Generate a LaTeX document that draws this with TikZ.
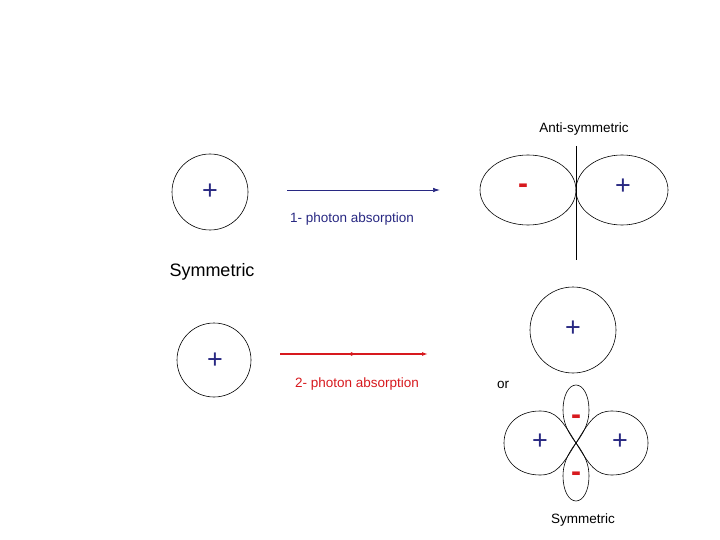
\documentclass[tikz,border=0pt]{standalone}
\usepackage{fontspec}
\setmainfont{Liberation Sans}
\usetikzlibrary{arrows.meta,decorations.markings}
\definecolor{navy}{RGB}{40,40,130}
\definecolor{myred}{RGB}{215,25,30}
\begin{document}
\begin{tikzpicture}[x=1pt,y=-1pt,
  orb/.style={draw=black,line width=0.6pt},
  plus/.style={text=navy,font=\fontsize{27}{27}\selectfont},
  minus/.style={text=myred,font=\bfseries\fontsize{30}{30}\selectfont},
  lbl/.style={font=\fontsize{13.5}{15}\selectfont}]
\useasboundingbox (0,0) rectangle (720,540);
% left circles
\draw[orb] (210,192) circle (38);
\node[plus] (p1) at (210,192) {+};
\draw[orb] (214,360) circle (37);
\node[plus] (p2) at (215,361) {+};
\node[font=\fontsize{18}{20}\selectfont] (sym1) at (212,272) {Symmetric};
% arrows
\coordinate (a1) at (287,190); \coordinate (a2) at (440,190);
\draw[navy,line width=0.7pt,-{Latex[length=7pt,width=4.5pt]}] (a1) -- (a2);
\node[lbl,text=navy] (l1) at (352,219) {1- photon absorption};
\coordinate (b1) at (280,354); \coordinate (b2) at (428,354);
\draw[myred,line width=1.6pt,-{Latex[length=6pt,width=4pt]},
  postaction={decorate,decoration={markings,mark=at position 0.52 with {\arrow{Latex[length=6pt,width=4pt]}}}}] (b1) -- (b2);
\node[lbl,text=myred] (l2) at (357,384) {2- photon absorption};
% anti-symmetric
\node[lbl] (anti) at (584,129) {Anti-symmetric};
\draw[orb] (528,190) ellipse (48 and 35);
\draw[orb] (622,190) ellipse (46 and 35);
\draw[orb] (576,146) -- (576,260);
\node[minus] (m1) at (523,189) {-};
\node[plus] (p3) at (623,187) {+};
% s orbital right
\draw[orb] (573,330) circle (43);
\node[plus] (p4) at (573,329) {+};
\node[lbl] (or) at (503,385) {or};
% d orbital
\coordinate (c) at (576,443);
\draw[orb] (c) .. controls (562,420) and (556,411) .. (540,411)
  .. controls (518,411) and (504,425) .. (504,443)
  .. controls (504,461) and (518,475) .. (540,475)
  .. controls (556,475) and (562,466) .. (c);
\draw[orb] (c) .. controls (590,420) and (596,411) .. (612,411)
  .. controls (634,411) and (648,425) .. (648,443)
  .. controls (648,461) and (634,475) .. (612,475)
  .. controls (596,475) and (590,466) .. (c);
\draw[orb] (c) .. controls (566,430) and (563,420) .. (563,410)
  .. controls (563,395) and (569,385) .. (576,385)
  .. controls (583,385) and (589,395) .. (589,410)
  .. controls (589,420) and (586,430) .. (c);
\draw[orb] (c) .. controls (566,456) and (563,466) .. (563,476)
  .. controls (563,491) and (569,501) .. (576,501)
  .. controls (583,501) and (589,491) .. (589,476)
  .. controls (589,466) and (586,456) .. (c);
\node[minus] (m2) at (576,420) {-};
\node[minus] (m3) at (576,477) {-};
\node[plus] (p5) at (540,442) {+};
\node[plus] (p6) at (620,442) {+};
\node[lbl] (sym2) at (583,520) {Symmetric};
\end{tikzpicture}
\end{document}
